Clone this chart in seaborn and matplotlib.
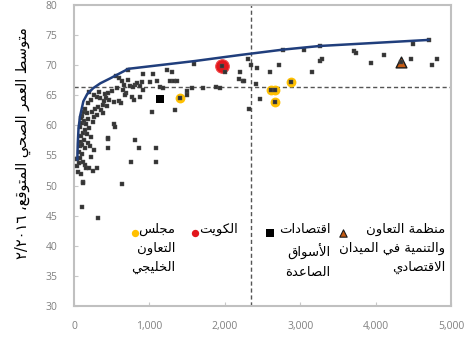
import re
import matplotlib
matplotlib.use("Agg")
import matplotlib.pyplot as plt
import seaborn as sns

# ---------------- data ----------------
x_ticks = [0, 1000, 2000, 3000, 4000, 5000]
x_tick_labels = ["0", "1,000", "2,000", "3,000", "4,000", "5,000"]
y_ticks = [30, 35, 40, 45, 50, 55, 60, 65, 70, 75, 80]

# health spending per capita vs. healthy life expectancy, all countries
spend = [40, 62, 45, 55, 70, 85, 100, 120, 140, 165, 200, 250, 305, 261, 220,
         93, 120, 106, 115, 314, 633,
         75, 90, 110, 130, 150, 180, 210, 95, 120, 145, 170, 200, 230, 80, 105,
         135, 160, 190, 250, 270, 300, 240, 280, 320, 110, 130, 150, 175, 90,
         360, 380, 400, 420, 440, 410, 450, 470, 390, 350, 300, 330, 270, 200,
         230, 180,
         447, 447, 456, 527, 540, 753, 867, 810, 1089, 1089,
         593, 628, 527, 505, 690, 770, 792, 880, 660, 748, 814, 880, 921, 655,
         567, 677, 788, 1032, 1341,
         721, 921, 1053, 1239, 1297, 1598, 2005, 2182, 2240, 2306, 721, 832,
         898, 1009, 1098, 1275, 1332, 1364, 1142, 1186, 1563, 1709, 1886, 1930,
         1505, 1497, 600, 560, 640,
         1408, 2882, 2612, 2669, 2660, 1960, 4343,
         2205, 2258, 2413, 2461, 2324, 2346, 2425, 2603, 2713, 2771, 3045, 3267,
         3157, 3267, 3289, 3710, 3745, 3940, 4108, 4471, 4493, 4750, 4808, 4705]
hale = [54.5, 55.6, 53.2, 52.3, 53.8, 54.6, 55.2, 54.0, 53.5, 52.9, 53.0, 52.5, 52.9, 55.9, 54.8,
        52.0, 50.6, 46.5, 50.5, 44.7, 50.2,
        56.5, 57.2, 56.8, 57.5, 56.3, 57.0, 56.6, 58.3, 58.8, 59.2, 58.5, 59.5, 58.0, 59.8, 60.4,
        60.8, 60.2, 61.0, 60.6, 61.4, 61.8, 62.3, 62.8, 63.0, 61.5, 62.3, 62.8, 62.0, 61.2,
        62.5, 63.4, 64.0, 64.6, 63.2, 65.2, 65.4, 64.2, 62.0, 64.5, 64.8, 65.5, 65.0, 65.5,
        64.3, 63.8,
        56.2, 57.7, 57.9, 60.3, 59.7, 54.0, 56.2, 57.6, 56.2, 54.0,
        64.1, 63.7, 63.9, 65.7, 65.3, 64.8, 64.3, 64.8, 66.7, 66.5, 66.7, 66.5, 65.9, 65.9,
        66.2, 65.0, 66.3, 62.3, 62.6,
        69.2, 68.6, 68.5, 69.2, 68.8, 70.2, 68.9, 67.7, 67.4, 71.1, 67.5, 67.0,
        67.2, 67.2, 67.3, 67.3, 67.3, 67.3, 66.4, 66.2, 66.2, 66.2, 66.3, 66.2,
        65.7, 65.1, 67.8, 68.2, 67.4,
        64.5, 67.2, 65.9, 65.9, 63.9, 69.9, 70.5,
        68.8, 67.3, 66.9, 64.4, 62.8, 70.1, 69.5, 68.8, 70.1, 72.6, 72.6, 73.2,
        68.8, 70.7, 71.0, 72.4, 72.0, 70.4, 71.7, 71.0, 73.5, 70.1, 71.0, 74.2]

# fitted trend
fit_spend = [44, 50, 60, 80, 124, 175, 256, 350, 478, 721, 1607, 2205, 2780, 3267, 4705]
fit_hale = [54.3, 57.0, 59.5, 61.5, 64.0, 65.2, 66.2, 67.0, 67.8, 69.4, 70.7, 71.7, 72.6, 73.2, 74.2]

# highlighted groups
gcc_spend = [1408, 2612, 2669, 2660, 2882]
gcc_hale = [64.5, 65.9, 65.9, 63.9, 67.2]
kuwait_spend = [1960]
kuwait_hale = [69.9]
em_spend = [1142]
em_hale = [64.4]
oecd_spend = [4343]
oecd_hale = [70.5]

# average reference lines
avg_spend = 2350
avg_hale = 66.4

y_label = "متوسط العمر الصحي المتوقع، ٢/٢٠١٦"
lbl_gcc = "مجلس\nالتعاون\nالخليجي"
lbl_kuwait = "الكويت"
lbl_em = "اقتصادات\nالأسواق\nالصاعدة"
lbl_oecd = "منظمة التعاون\nوالتنمية في الميدان\nالاقتصادي"

# ------------- Arabic shaping (contextual forms + right-to-left order) -------------
_FORMS = {
    'ا': (0xFE8D, 0xFE8E, None, None),
    'أ': (0xFE83, 0xFE84, None, None),
    'ة': (0xFE93, 0xFE94, None, None),
    'ت': (0xFE95, 0xFE96, 0xFE97, 0xFE98),
    'ج': (0xFE9D, 0xFE9E, 0xFE9F, 0xFEA0),
    'ح': (0xFEA1, 0xFEA2, 0xFEA3, 0xFEA4),
    'خ': (0xFEA5, 0xFEA6, 0xFEA7, 0xFEA8),
    'د': (0xFEA9, 0xFEAA, None, None),
    'ر': (0xFEAD, 0xFEAE, None, None),
    'س': (0xFEB1, 0xFEB2, 0xFEB3, 0xFEB4),
    'ص': (0xFEB9, 0xFEBA, 0xFEBB, 0xFEBC),
    'ط': (0xFEC1, 0xFEC2, 0xFEC3, 0xFEC4),
    'ظ': (0xFEC5, 0xFEC6, 0xFEC7, 0xFEC8),
    'ع': (0xFEC9, 0xFECA, 0xFECB, 0xFECC),
    'ف': (0xFED1, 0xFED2, 0xFED3, 0xFED4),
    'ق': (0xFED5, 0xFED6, 0xFED7, 0xFED8),
    'ك': (0xFED9, 0xFEDA, 0xFEDB, 0xFEDC),
    'ل': (0xFEDD, 0xFEDE, 0xFEDF, 0xFEE0),
    'م': (0xFEE1, 0xFEE2, 0xFEE3, 0xFEE4),
    'ن': (0xFEE5, 0xFEE6, 0xFEE7, 0xFEE8),
    'و': (0xFEED, 0xFEEE, None, None),
    'ي': (0xFEF1, 0xFEF2, 0xFEF3, 0xFEF4),
}
_LAM_ALEF = {'ا': (0xFEFB, 0xFEFC), 'أ': (0xFEF7, 0xFEF8)}
_NUM = r'[\u0660-\u06690-9][\u0660-\u06690-9/.,]*'


def _shape(text):
    out = []
    i, n = 0, len(text)
    while i < n:
        c = text[i]
        if c not in _FORMS:
            out.append(c)
            i += 1
            continue
        prev = text[i - 1] if i > 0 else ''
        joins_prev = prev in _FORMS and _FORMS[prev][2] is not None
        if c == 'ل' and i + 1 < n and text[i + 1] in _LAM_ALEF:
            iso, fin = _LAM_ALEF[text[i + 1]]
            out.append(chr(fin if joins_prev else iso))
            i += 2
            continue
        nxt = text[i + 1] if i + 1 < n else ''
        iso, fin, ini, med = _FORMS[c]
        joins_next = ini is not None and nxt in _FORMS
        if joins_prev and joins_next:
            g = med
        elif joins_prev:
            g = fin
        elif joins_next:
            g = ini
        else:
            g = iso
        out.append(chr(g))
        i += 1
    return ''.join(out)


def rtl(text):
    lines = []
    for line in text.split('\n'):
        parts = re.split('(' + _NUM + ')', line)
        vis = []
        for p in reversed(parts):
            if p and re.match(_NUM, p):
                vis.append(p)
            else:
                vis.append(_shape(p)[::-1])
        lines.append(''.join(vis))
    return '\n'.join(lines)


# ---------------- figure ----------------
sns.set_style("white")
plt.rcParams['font.family'] = ['DejaVu Sans']

W, H = 471, 341
fig = plt.figure(figsize=(W / 100, H / 100), dpi=100)
ax = fig.add_axes([74 / W, 1 - 306 / H, (451 - 74) / W, (306 - 5) / H])

ax.axvline(avg_spend, color='#555555', lw=1.0, dashes=(3, 2), zorder=1)
ax.axhline(avg_hale, color='#555555', lw=1.0, dashes=(3, 2), zorder=1)

sns.scatterplot(x=kuwait_spend, y=kuwait_hale, ax=ax, s=95, color='#E2161C',
                edgecolor='#F04848', linewidth=0.8, zorder=2)
sns.scatterplot(x=gcc_spend, y=gcc_hale, ax=ax, s=50, color='#FFC000',
                linewidth=0, zorder=2)
sns.scatterplot(x=em_spend, y=em_hale, ax=ax, s=38, color='#000000', marker='s',
                linewidth=0, zorder=2)
sns.scatterplot(x=oecd_spend, y=oecd_hale, ax=ax, s=60, color='#C55A11', marker='^',
                edgecolor='#1a1a1a', linewidth=1.0, zorder=2)

sns.scatterplot(x=spend, y=hale, ax=ax, s=6, color='#333333', marker='s',
                linewidth=0.3, edgecolor='#555555', zorder=3)

sns.lineplot(x=fit_spend, y=fit_hale, ax=ax, sort=False, estimator=None,
             color='#203E7C', lw=1.8, zorder=4)

ax.set_xlim(0, 5000)
ax.set_ylim(30, 80)
ax.set_xticks(x_ticks)
ax.set_xticklabels(x_tick_labels)
ax.set_yticks(y_ticks)
ax.set_xlabel('')
ax.set_ylabel('')

for s in ax.spines.values():
    s.set_color('#C0C0C0')
    s.set_linewidth(1.5)
    s.set_visible(True)

ax.tick_params(axis='both', direction='in', length=3, width=0.8, color='#C8C8C8',
               labelcolor='#808080', labelsize=7.5, left=True, bottom=True,
               top=False, right=False)
ax.tick_params(axis='y', pad=12)
ax.tick_params(axis='x', pad=11)
for t in ax.get_xticklabels() + ax.get_yticklabels():
    t.set_family('Open Sans')

fig.text(23 / W, 1 - 143 / H, rtl(y_label), rotation=90, ha='center', va='center',
         fontsize=10.5, color='black')

# legend-style annotations
leg_y = 42.1
txt_kw = dict(ha='right', va='top', fontsize=9.5, multialignment='right',
              linespacing=1.6, color='black')
ax.scatter([810], [leg_y], s=28, color='#FFC000', linewidth=0, zorder=5)
ax.text(1341, 43.8, rtl(lbl_gcc), **txt_kw)
ax.scatter([1611], [leg_y], s=28, color='#E2161C', linewidth=0, zorder=5)
ax.text(2178, 43.8, rtl(lbl_kuwait), **txt_kw)
ax.scatter([2603], [leg_y], s=28, color='#000000', marker='s', linewidth=0, zorder=5)
ax.text(3400, 43.8, rtl(lbl_em), **txt_kw)
ax.scatter([3563], [leg_y], s=28, color='#C55A11', marker='^', edgecolor='#1a1a1a',
           linewidth=0.8, zorder=5)
ax.text(4927, 43.8, rtl(lbl_oecd), **txt_kw)

fig.savefig('out.png', dpi=100)
